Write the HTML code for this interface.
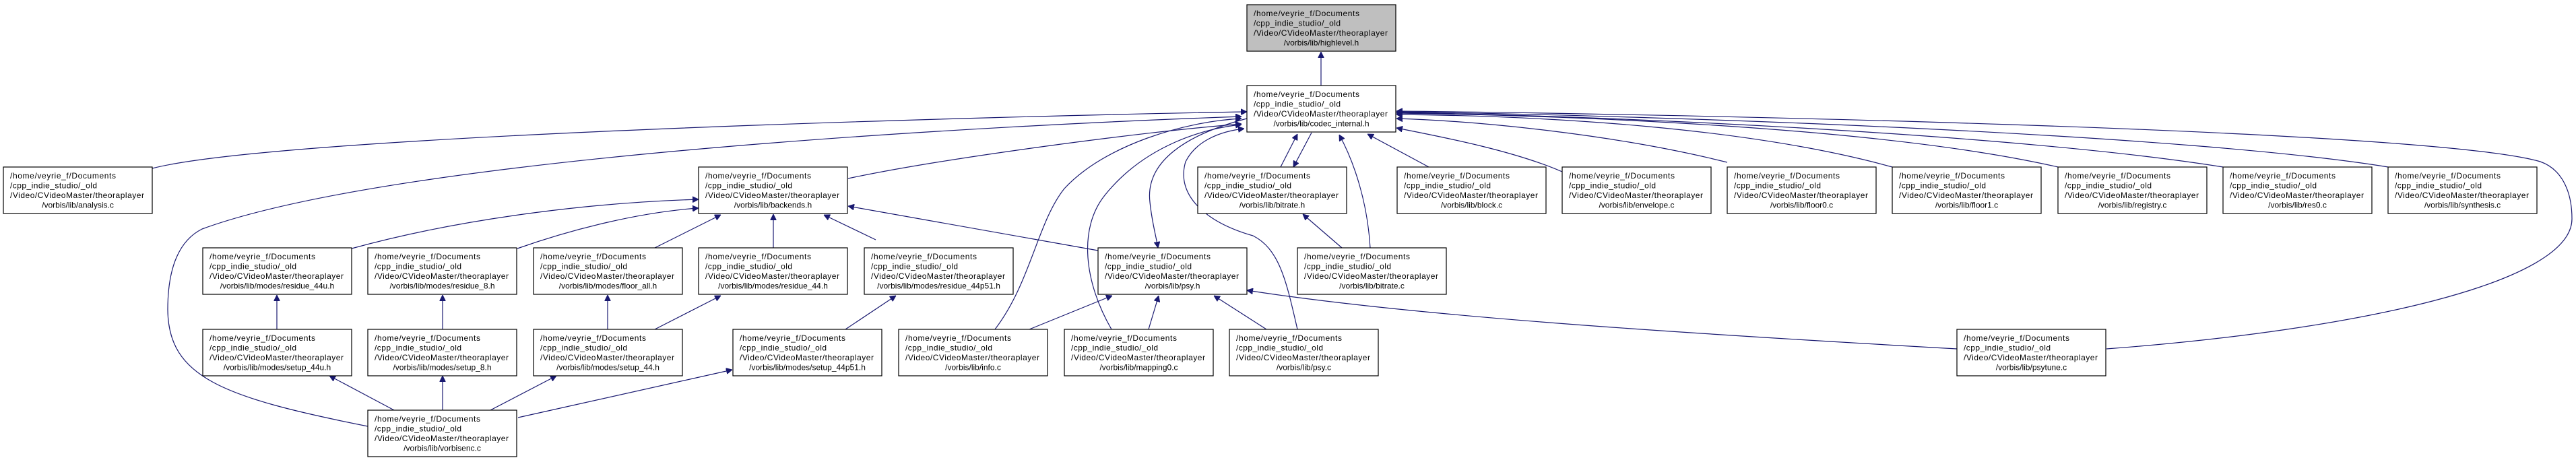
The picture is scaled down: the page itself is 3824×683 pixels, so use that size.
<!DOCTYPE html>
<html><head><meta charset="utf-8"><style>
html,body{margin:0;padding:0;background:#fff;}
svg{display:block;}
text{font-family:"Liberation Sans",sans-serif;font-size:12px;fill:#000;}
.e{fill:none;stroke:#191970;stroke-width:1.2;marker-end:url(#a);}
.b{fill:#fff;stroke:#000;stroke-width:1.2;}
</style></head><body>
<svg width="3824" height="683" viewBox="0 0 3824 683" xmlns="http://www.w3.org/2000/svg">
<defs><marker id="a" viewBox="0 0 10 10" refX="10" refY="5" markerWidth="9" markerHeight="9" markerUnits="userSpaceOnUse" orient="auto"><path d="M0,0L10,5L0,10z" fill="#191970" stroke="#191970"/></marker></defs>

<!-- edges -->
<path class="e" d="M1961,127L1961,77"/>
<path class="e" d="M226,250C420,200 1500,172 1851,166"/>
<path class="e" d="M546,633C330,590 250,560 249,460C249,390 270,355 300,340C600,230 1500,185 1843,173"/>
<path class="e" d="M1259,265C1400,235 1700,195 1843,184"/>
<path class="e" d="M1630,372L1259,306"/>
<path class="e" d="M522,369C700,320 900,300 1037,296"/>
<path class="e" d="M768,369C850,340 950,315 1037,309"/>
<path class="e" d="M972,368L1070,319"/>
<path class="e" d="M1148,368L1148,318"/>
<path class="e" d="M1300,356L1223,319"/>
<path class="e" d="M411,489L411,438"/>
<path class="e" d="M657,489L657,438"/>
<path class="e" d="M902,489L902,438"/>
<path class="e" d="M972,489L1070,439"/>
<path class="e" d="M1255,489L1330,439"/>
<path class="e" d="M585,609L489,558"/>
<path class="e" d="M657,609L657,558"/>
<path class="e" d="M728,609L826,558"/>
<path class="e" d="M769,620L1087,549"/>
<path class="e" d="M1477,489C1530,420 1540,330 1580,280C1640,215 1760,180 1843,176"/>
<path class="e" d="M1528,489L1651,439"/>
<path class="e" d="M1650,489C1610,420 1600,340 1640,290C1700,215 1790,190 1843,185"/>
<path class="e" d="M1705,489L1720,439"/>
<path class="e" d="M1880,489L1802,439"/>
<path class="e" d="M1926,489C1910,420 1900,370 1860,350C1790,330 1745,290 1760,240C1775,210 1810,195 1847,191"/>
<path class="e" d="M1851,176C1760,200 1700,240 1707,300C1710,330 1716,350 1719,368"/>
<path class="e" d="M1901,248L1926,199"/>
<path class="e" d="M1947,197L1920,248"/>
<path class="e" d="M1992,368L1934,318"/>
<path class="e" d="M2034,368C2030,300 2010,240 1988,200"/>
<path class="e" d="M2121,248L2030,199"/>
<path class="e" d="M2319,255C2250,225 2150,205 2073,190"/>
<path class="e" d="M2564,241C2400,200 2200,180 2073,176"/>
<path class="e" d="M2809,248C2600,190 2300,172 2073,170"/>
<path class="e" d="M3055,248C2800,190 2350,172 2073,168"/>
<path class="e" d="M3300,248C3000,200 2400,172 2073,167"/>
<path class="e" d="M3545,248C3250,200 2500,172 2073,166"/>
<path class="e" d="M3127,518C3500,490 3818,420 3818,325C3818,280 3800,250 3771,240C3600,190 2400,168 2073,165"/>
<path class="e" d="M2905,518C2500,495 2100,470 1851,431"/>

<!-- nodes -->
<g>
<rect x="1851" y="7" width="221" height="69" fill="#bfbfbf" stroke="#000" stroke-width="1.2"/>
<text x="1861" y="24" textLength="157">/home/veyrie_f/Documents</text><text x="1861" y="38.5" textLength="129">/cpp_indie_studio/_old</text><text x="1861" y="53" textLength="199">/Video/CVideoMaster/theoraplayer</text><text x="1961.5" y="67.5" text-anchor="middle">/vorbis/lib/highlevel.h</text>
</g>
<g><rect class="b" x="1851" y="127" width="221" height="69"/>
<text x="1861" y="144" textLength="157">/home/veyrie_f/Documents</text><text x="1861" y="158.5" textLength="129">/cpp_indie_studio/_old</text><text x="1861" y="173" textLength="199">/Video/CVideoMaster/theoraplayer</text><text x="1961.5" y="187.5" text-anchor="middle">/vorbis/lib/codec_internal.h</text></g>

<g><rect class="b" x="5" y="248" width="221" height="69"/><text x="15" y="265" textLength="157">/home/veyrie_f/Documents</text><text x="15" y="279.5" textLength="129">/cpp_indie_studio/_old</text><text x="15" y="294" textLength="199">/Video/CVideoMaster/theoraplayer</text><text x="115.5" y="308.5" text-anchor="middle">/vorbis/lib/analysis.c</text></g>
<g><rect class="b" x="1037" y="248" width="221" height="69"/><text x="1047" y="265" textLength="157">/home/veyrie_f/Documents</text><text x="1047" y="279.5" textLength="129">/cpp_indie_studio/_old</text><text x="1047" y="294" textLength="199">/Video/CVideoMaster/theoraplayer</text><text x="1147.5" y="308.5" text-anchor="middle">/vorbis/lib/backends.h</text></g>
<g><rect class="b" x="1778" y="248" width="221" height="69"/><text x="1788" y="265" textLength="157">/home/veyrie_f/Documents</text><text x="1788" y="279.5" textLength="129">/cpp_indie_studio/_old</text><text x="1788" y="294" textLength="199">/Video/CVideoMaster/theoraplayer</text><text x="1888.5" y="308.5" text-anchor="middle">/vorbis/lib/bitrate.h</text></g>
<g><rect class="b" x="2074" y="248" width="221" height="69"/><text x="2084" y="265" textLength="157">/home/veyrie_f/Documents</text><text x="2084" y="279.5" textLength="129">/cpp_indie_studio/_old</text><text x="2084" y="294" textLength="199">/Video/CVideoMaster/theoraplayer</text><text x="2184.5" y="308.5" text-anchor="middle">/vorbis/lib/block.c</text></g>
<g><rect class="b" x="2319" y="248" width="221" height="69"/><text x="2329" y="265" textLength="157">/home/veyrie_f/Documents</text><text x="2329" y="279.5" textLength="129">/cpp_indie_studio/_old</text><text x="2329" y="294" textLength="199">/Video/CVideoMaster/theoraplayer</text><text x="2429.5" y="308.5" text-anchor="middle">/vorbis/lib/envelope.c</text></g>
<g><rect class="b" x="2564" y="248" width="221" height="69"/><text x="2574" y="265" textLength="157">/home/veyrie_f/Documents</text><text x="2574" y="279.5" textLength="129">/cpp_indie_studio/_old</text><text x="2574" y="294" textLength="199">/Video/CVideoMaster/theoraplayer</text><text x="2674.5" y="308.5" text-anchor="middle">/vorbis/lib/floor0.c</text></g>
<g><rect class="b" x="2809" y="248" width="221" height="69"/><text x="2819" y="265" textLength="157">/home/veyrie_f/Documents</text><text x="2819" y="279.5" textLength="129">/cpp_indie_studio/_old</text><text x="2819" y="294" textLength="199">/Video/CVideoMaster/theoraplayer</text><text x="2919.5" y="308.5" text-anchor="middle">/vorbis/lib/floor1.c</text></g>
<g><rect class="b" x="3055" y="248" width="221" height="69"/><text x="3065" y="265" textLength="157">/home/veyrie_f/Documents</text><text x="3065" y="279.5" textLength="129">/cpp_indie_studio/_old</text><text x="3065" y="294" textLength="199">/Video/CVideoMaster/theoraplayer</text><text x="3165.5" y="308.5" text-anchor="middle">/vorbis/lib/registry.c</text></g>
<g><rect class="b" x="3300" y="248" width="221" height="69"/><text x="3310" y="265" textLength="157">/home/veyrie_f/Documents</text><text x="3310" y="279.5" textLength="129">/cpp_indie_studio/_old</text><text x="3310" y="294" textLength="199">/Video/CVideoMaster/theoraplayer</text><text x="3410.5" y="308.5" text-anchor="middle">/vorbis/lib/res0.c</text></g>
<g><rect class="b" x="3545" y="248" width="221" height="69"/><text x="3555" y="265" textLength="157">/home/veyrie_f/Documents</text><text x="3555" y="279.5" textLength="129">/cpp_indie_studio/_old</text><text x="3555" y="294" textLength="199">/Video/CVideoMaster/theoraplayer</text><text x="3655.5" y="308.5" text-anchor="middle">/vorbis/lib/synthesis.c</text></g>

<g><rect class="b" x="301" y="368" width="221" height="69"/><text x="311" y="385" textLength="157">/home/veyrie_f/Documents</text><text x="311" y="399.5" textLength="129">/cpp_indie_studio/_old</text><text x="311" y="414" textLength="199">/Video/CVideoMaster/theoraplayer</text><text x="411.5" y="428.5" text-anchor="middle">/vorbis/lib/modes/residue_44u.h</text></g>
<g><rect class="b" x="546" y="368" width="221" height="69"/><text x="556" y="385" textLength="157">/home/veyrie_f/Documents</text><text x="556" y="399.5" textLength="129">/cpp_indie_studio/_old</text><text x="556" y="414" textLength="199">/Video/CVideoMaster/theoraplayer</text><text x="656.5" y="428.5" text-anchor="middle">/vorbis/lib/modes/residue_8.h</text></g>
<g><rect class="b" x="792" y="368" width="221" height="69"/><text x="802" y="385" textLength="157">/home/veyrie_f/Documents</text><text x="802" y="399.5" textLength="129">/cpp_indie_studio/_old</text><text x="802" y="414" textLength="199">/Video/CVideoMaster/theoraplayer</text><text x="902.5" y="428.5" text-anchor="middle">/vorbis/lib/modes/floor_all.h</text></g>
<g><rect class="b" x="1037" y="368" width="221" height="69"/><text x="1047" y="385" textLength="157">/home/veyrie_f/Documents</text><text x="1047" y="399.5" textLength="129">/cpp_indie_studio/_old</text><text x="1047" y="414" textLength="199">/Video/CVideoMaster/theoraplayer</text><text x="1147.5" y="428.5" text-anchor="middle">/vorbis/lib/modes/residue_44.h</text></g>
<g><rect class="b" x="1283" y="368" width="221" height="69"/><text x="1293" y="385" textLength="157">/home/veyrie_f/Documents</text><text x="1293" y="399.5" textLength="129">/cpp_indie_studio/_old</text><text x="1293" y="414" textLength="199">/Video/CVideoMaster/theoraplayer</text><text x="1393.5" y="428.5" text-anchor="middle">/vorbis/lib/modes/residue_44p51.h</text></g>
<g><rect class="b" x="1630" y="368" width="221" height="69"/><text x="1640" y="385" textLength="157">/home/veyrie_f/Documents</text><text x="1640" y="399.5" textLength="129">/cpp_indie_studio/_old</text><text x="1640" y="414" textLength="199">/Video/CVideoMaster/theoraplayer</text><text x="1740.5" y="428.5" text-anchor="middle">/vorbis/lib/psy.h</text></g>
<g><rect class="b" x="1926" y="368" width="221" height="69"/><text x="1936" y="385" textLength="157">/home/veyrie_f/Documents</text><text x="1936" y="399.5" textLength="129">/cpp_indie_studio/_old</text><text x="1936" y="414" textLength="199">/Video/CVideoMaster/theoraplayer</text><text x="2036.5" y="428.5" text-anchor="middle">/vorbis/lib/bitrate.c</text></g>

<g><rect class="b" x="301" y="489" width="221" height="69"/><text x="311" y="506" textLength="157">/home/veyrie_f/Documents</text><text x="311" y="520.5" textLength="129">/cpp_indie_studio/_old</text><text x="311" y="535" textLength="199">/Video/CVideoMaster/theoraplayer</text><text x="411.5" y="549.5" text-anchor="middle">/vorbis/lib/modes/setup_44u.h</text></g>
<g><rect class="b" x="546" y="489" width="221" height="69"/><text x="556" y="506" textLength="157">/home/veyrie_f/Documents</text><text x="556" y="520.5" textLength="129">/cpp_indie_studio/_old</text><text x="556" y="535" textLength="199">/Video/CVideoMaster/theoraplayer</text><text x="656.5" y="549.5" text-anchor="middle">/vorbis/lib/modes/setup_8.h</text></g>
<g><rect class="b" x="792" y="489" width="221" height="69"/><text x="802" y="506" textLength="157">/home/veyrie_f/Documents</text><text x="802" y="520.5" textLength="129">/cpp_indie_studio/_old</text><text x="802" y="535" textLength="199">/Video/CVideoMaster/theoraplayer</text><text x="902.5" y="549.5" text-anchor="middle">/vorbis/lib/modes/setup_44.h</text></g>
<g><rect class="b" x="1088" y="489" width="221" height="69"/><text x="1098" y="506" textLength="157">/home/veyrie_f/Documents</text><text x="1098" y="520.5" textLength="129">/cpp_indie_studio/_old</text><text x="1098" y="535" textLength="199">/Video/CVideoMaster/theoraplayer</text><text x="1198.5" y="549.5" text-anchor="middle">/vorbis/lib/modes/setup_44p51.h</text></g>
<g><rect class="b" x="1334" y="489" width="221" height="69"/><text x="1344" y="506" textLength="157">/home/veyrie_f/Documents</text><text x="1344" y="520.5" textLength="129">/cpp_indie_studio/_old</text><text x="1344" y="535" textLength="199">/Video/CVideoMaster/theoraplayer</text><text x="1444.5" y="549.5" text-anchor="middle">/vorbis/lib/info.c</text></g>
<g><rect class="b" x="1580" y="489" width="221" height="69"/><text x="1590" y="506" textLength="157">/home/veyrie_f/Documents</text><text x="1590" y="520.5" textLength="129">/cpp_indie_studio/_old</text><text x="1590" y="535" textLength="199">/Video/CVideoMaster/theoraplayer</text><text x="1690.5" y="549.5" text-anchor="middle">/vorbis/lib/mapping0.c</text></g>
<g><rect class="b" x="1825" y="489" width="221" height="69"/><text x="1835" y="506" textLength="157">/home/veyrie_f/Documents</text><text x="1835" y="520.5" textLength="129">/cpp_indie_studio/_old</text><text x="1835" y="535" textLength="199">/Video/CVideoMaster/theoraplayer</text><text x="1935.5" y="549.5" text-anchor="middle">/vorbis/lib/psy.c</text></g>
<g><rect class="b" x="2905" y="489" width="221" height="69"/><text x="2915" y="506" textLength="157">/home/veyrie_f/Documents</text><text x="2915" y="520.5" textLength="129">/cpp_indie_studio/_old</text><text x="2915" y="535" textLength="199">/Video/CVideoMaster/theoraplayer</text><text x="3015.5" y="549.5" text-anchor="middle">/vorbis/lib/psytune.c</text></g>

<g><rect class="b" x="546" y="609" width="221" height="69"/><text x="556" y="626" textLength="157">/home/veyrie_f/Documents</text><text x="556" y="640.5" textLength="129">/cpp_indie_studio/_old</text><text x="556" y="655" textLength="199">/Video/CVideoMaster/theoraplayer</text><text x="656.5" y="669.5" text-anchor="middle">/vorbis/lib/vorbisenc.c</text></g>
</svg>
</body></html>
